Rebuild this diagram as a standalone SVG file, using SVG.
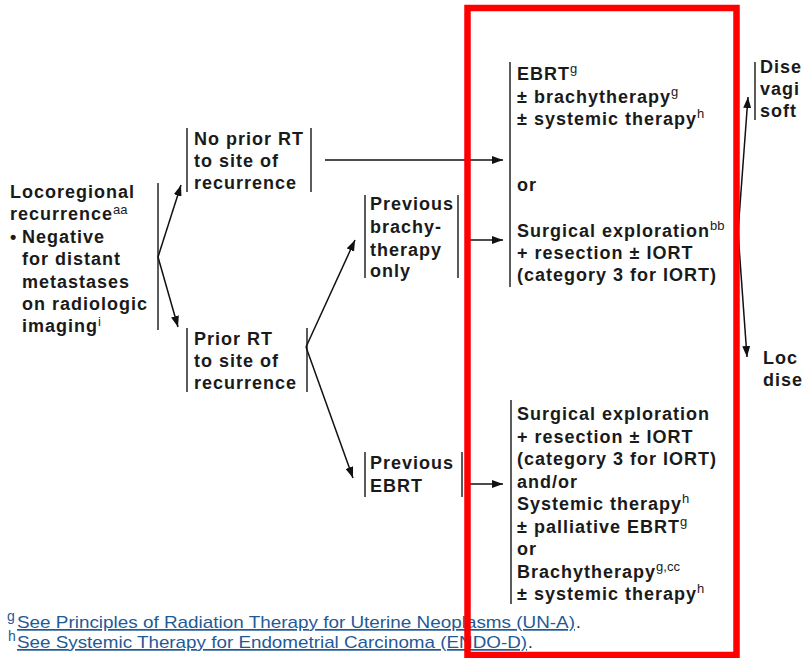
<svg xmlns="http://www.w3.org/2000/svg" width="802" height="658" viewBox="0 0 802 658">
<style>
.t{font-family:"Liberation Sans",Arial,sans-serif;font-weight:bold;font-size:18px;letter-spacing:1px;fill:#1a1a1a}
.s{font-size:13px;font-weight:normal;letter-spacing:0}
.bar{stroke:#333;stroke-width:1.6;fill:none}
.c{stroke:#111;stroke-width:1.5;fill:none;marker-end:url(#ah)}
.fn{font-family:"Liberation Sans",Arial,sans-serif;font-size:17px;fill:#1f5a96}
.fs{font-family:"Liberation Sans",Arial,sans-serif;font-size:14px;fill:#1f5a96}
</style>
<defs>
<marker id="ah" markerUnits="userSpaceOnUse" markerWidth="11" markerHeight="8" refX="11" refY="4" orient="auto">
<path d="M0,0 L11,4 L0,8 z" fill="#111"/>
</marker>
</defs>
<rect width="802" height="658" fill="#fff"/>

<g id="n-locoregional">
<line class="bar" x1="158" y1="183" x2="158" y2="330"/>
<text class="t" x="10" y="198">Locoregional</text>
<text class="t" x="10" y="220">recurrence<tspan class="s" dy="-6">aa</tspan></text>
<text class="t" x="10" y="243">•</text>
<text class="t" x="22" y="243">Negative</text>
<text class="t" x="22" y="265">for distant</text>
<text class="t" x="22" y="288">metastases</text>
<text class="t" x="22" y="310">on radiologic</text>
<text class="t" x="22" y="332">imaging<tspan class="s" dy="-6">i</tspan></text>
</g>

<g id="n-no-prior-rt">
<line class="bar" x1="187" y1="128" x2="187" y2="192"/>
<line class="bar" x1="311" y1="128" x2="311" y2="192"/>
<text class="t" x="194" y="145">No prior RT</text>
<text class="t" x="194" y="167">to site of</text>
<text class="t" x="194" y="189">recurrence</text>
</g>

<g id="n-prior-rt">
<line class="bar" x1="187" y1="328" x2="187" y2="392"/>
<line class="bar" x1="307" y1="328" x2="307" y2="392"/>
<text class="t" x="194" y="345">Prior RT</text>
<text class="t" x="194" y="367">to site of</text>
<text class="t" x="194" y="389">recurrence</text>
</g>

<g id="n-prev-brachy">
<line class="bar" x1="365" y1="195" x2="365" y2="278"/>
<line class="bar" x1="458" y1="195" x2="458" y2="278"/>
<text class="t" x="370" y="210">Previous</text>
<text class="t" x="370" y="233">brachy-</text>
<text class="t" x="370" y="256">therapy</text>
<text class="t" x="370" y="277">only</text>
</g>

<g id="n-prev-ebrt">
<line class="bar" x1="365" y1="452" x2="365" y2="497"/>
<line class="bar" x1="462" y1="452" x2="462" y2="497"/>
<text class="t" x="370" y="469">Previous</text>
<text class="t" x="370" y="492">EBRT</text>
</g>

<g id="n-treat-1">
<line class="bar" x1="510" y1="62" x2="510" y2="287"/>
<text class="t" x="517" y="80">EBRT<tspan class="s" dy="-7">g</tspan></text>
<text class="t" x="517" y="103">± brachytherapy<tspan class="s" dy="-7">g</tspan></text>
<text class="t" x="517" y="125">± systemic therapy<tspan class="s" dy="-7">h</tspan></text>
<text class="t" x="517" y="191">or</text>
<text class="t" x="517" y="237">Surgical exploration<tspan class="s" dy="-7">bb</tspan></text>
<text class="t" x="517" y="259">+ resection ± IORT</text>
<text class="t" x="517" y="281">(category 3 for IORT)</text>
</g>

<g id="n-treat-2">
<line class="bar" x1="511" y1="400" x2="511" y2="604"/>
<text class="t" x="517" y="420">Surgical exploration</text>
<text class="t" x="517" y="443">+ resection ± IORT</text>
<text class="t" x="517" y="465">(category 3 for IORT)</text>
<text class="t" x="517" y="488">and/or</text>
<text class="t" x="517" y="510">Systemic therapy<tspan class="s" dy="-7">h</tspan></text>
<text class="t" x="517" y="533">± palliative EBRT<tspan class="s" dy="-7">g</tspan></text>
<text class="t" x="517" y="555">or</text>
<text class="t" x="517" y="578">Brachytherapy<tspan class="s" dy="-7">g,cc</tspan></text>
<text class="t" x="517" y="600">± systemic therapy<tspan class="s" dy="-7">h</tspan></text>
</g>

<g id="n-disease-vaginal">
<line class="bar" x1="755" y1="62" x2="755" y2="120"/>
<text class="t" x="760" y="73">Dise</text>
<text class="t" x="760" y="95">vagi</text>
<text class="t" x="760" y="117">soft</text>
</g>

<g id="n-local-disease">
<text class="t" x="763" y="364">Loc</text>
<text class="t" x="763" y="386">dise</text>
</g>

<g id="connectors">
<path class="c" d="M158,257 L181,185"/>
<path class="c" d="M158,257 L178,327"/>
<path class="c" d="M325,160 L503,160"/>
<path class="c" d="M306,347 L355,240"/>
<path class="c" d="M306,347 L353,478"/>
<path class="c" d="M468,240 L503,240"/>
<path class="c" d="M470,484 L503,484"/>
<path class="c" d="M738,232 L748,97"/>
<path class="c" d="M738,232 L747,357"/>
</g>

<g id="footnotes">
<text class="fs" x="7" y="621">g</text>
<text class="fn" x="17" y="628" text-decoration="underline" textLength="558" lengthAdjust="spacingAndGlyphs">See Principles of Radiation Therapy for Uterine Neoplasms (UN-A)</text>
<text class="fn" x="576" y="628" style="fill:#222">.</text>
<text class="fs" x="8" y="641">h</text>
<text class="fn" x="17" y="648" text-decoration="underline" textLength="510" lengthAdjust="spacingAndGlyphs">See Systemic Therapy for Endometrial Carcinoma (ENDO-D)</text>
<text class="fn" x="528" y="648" style="fill:#222">.</text>
</g>

<rect id="highlight" x="467.5" y="8" width="269" height="647" fill="none" stroke="#ff0000" stroke-width="6.5"/>
</svg>
